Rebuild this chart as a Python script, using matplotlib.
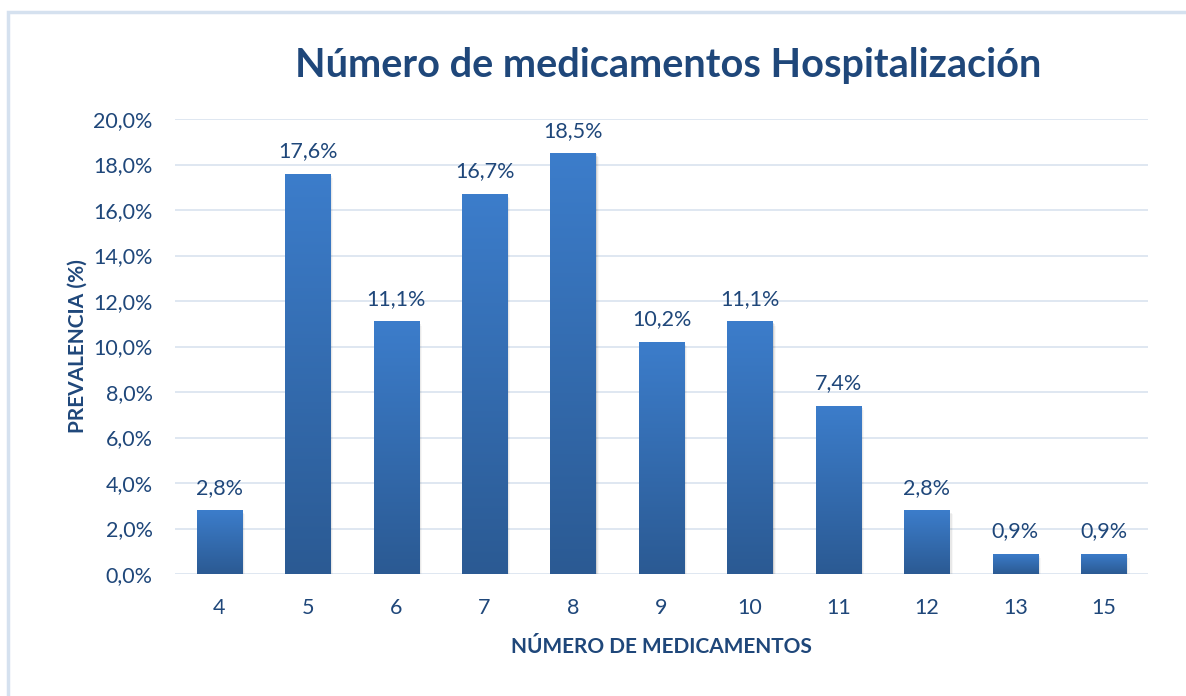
import matplotlib
matplotlib.use("Agg")
import matplotlib.pyplot as plt
import numpy as np
from matplotlib.colors import LinearSegmentedColormap
from matplotlib.patches import Rectangle

categories = ["4", "5", "6", "7", "8", "9", "10", "11", "12", "13", "15"]
values = [2.8, 17.6, 11.1, 16.7, 18.5, 10.2, 11.1, 7.4, 2.8, 0.9, 0.9]
yticks = [0, 2, 4, 6, 8, 10, 12, 14, 16, 18, 20]

TEXT = "#1f477a"
plt.rcParams["font.family"] = ["Lato", "DejaVu Sans"]

fig = plt.figure(figsize=(11.86, 6.96), dpi=100)
fig.patch.set_facecolor("white")
# outer chart frame
fig.add_artist(Rectangle((8 / 1186, -0.05), 1.2, 1 - 12 / 696 + 0.05,
                         transform=fig.transFigure, fill=False,
                         edgecolor="#d5e1ef", linewidth=2.5))

ax = fig.add_axes([175 / 1186, 1 - 574 / 696, (1148 - 175) / 1186, (574 - 119) / 696])
x = np.arange(len(categories))
bars = ax.bar(x, values, width=0.51, color="none", zorder=3)

cmap = LinearSegmentedColormap.from_list("g", ["#2b5a93", "#3c7dcb"])
grad = np.linspace(0, 1, 256).reshape(-1, 1)
for b in bars:
    x0, w, h = b.get_x(), b.get_width(), b.get_height()
    # soft shadow
    for k, a in enumerate([0.10, 0.06, 0.03]):
        ax.add_patch(Rectangle((x0 + 0.012 * (k + 1), -0.06 * (k + 1)), w, h,
                               facecolor="#000000", alpha=a, edgecolor="none", zorder=2))
    im = ax.imshow(grad, extent=(x0, x0 + w, 0, h), origin="lower", cmap=cmap,
                   aspect="auto", zorder=3)
    im.set_clip_path(b)

for xi, v in zip(x, values):
    ax.text(xi, v + 0.55, f"{v:.1f}%".replace(".", ","), ha="center", va="bottom",
            fontsize=15.5, color=TEXT)

ax.set_xlim(-0.5, len(categories) - 0.5)
ax.set_ylim(0, 20)
ax.set_yticks(yticks)
ax.set_yticklabels([f"{t:.1f}%".replace(".", ",") for t in yticks])
ax.set_xticks(x)
ax.set_xticklabels(categories)
ax.tick_params(axis="both", length=0, labelsize=15.5, labelcolor=TEXT)
ax.tick_params(axis="y", pad=16)
ax.tick_params(axis="x", pad=17)
ax.grid(axis="y", color="#d9e3ef", linewidth=1.2, zorder=0)
for s in ax.spines.values():
    s.set_visible(False)
ax.set_facecolor("none")

ax.set_xlabel("NÚMERO DE MEDICAMENTOS", fontsize=15, fontweight="bold", color=TEXT, labelpad=14)
ax.set_ylabel("PREVALENCIA (%)", fontsize=15, fontweight="bold", color=TEXT, labelpad=4)
fig.text(668 / 1186, 1 - 66 / 696, "Número de medicamentos Hospitalización", ha="center",
         va="center", fontsize=28.5, fontweight="bold", color=TEXT)

fig.savefig("out.png", dpi=100, facecolor="white")
